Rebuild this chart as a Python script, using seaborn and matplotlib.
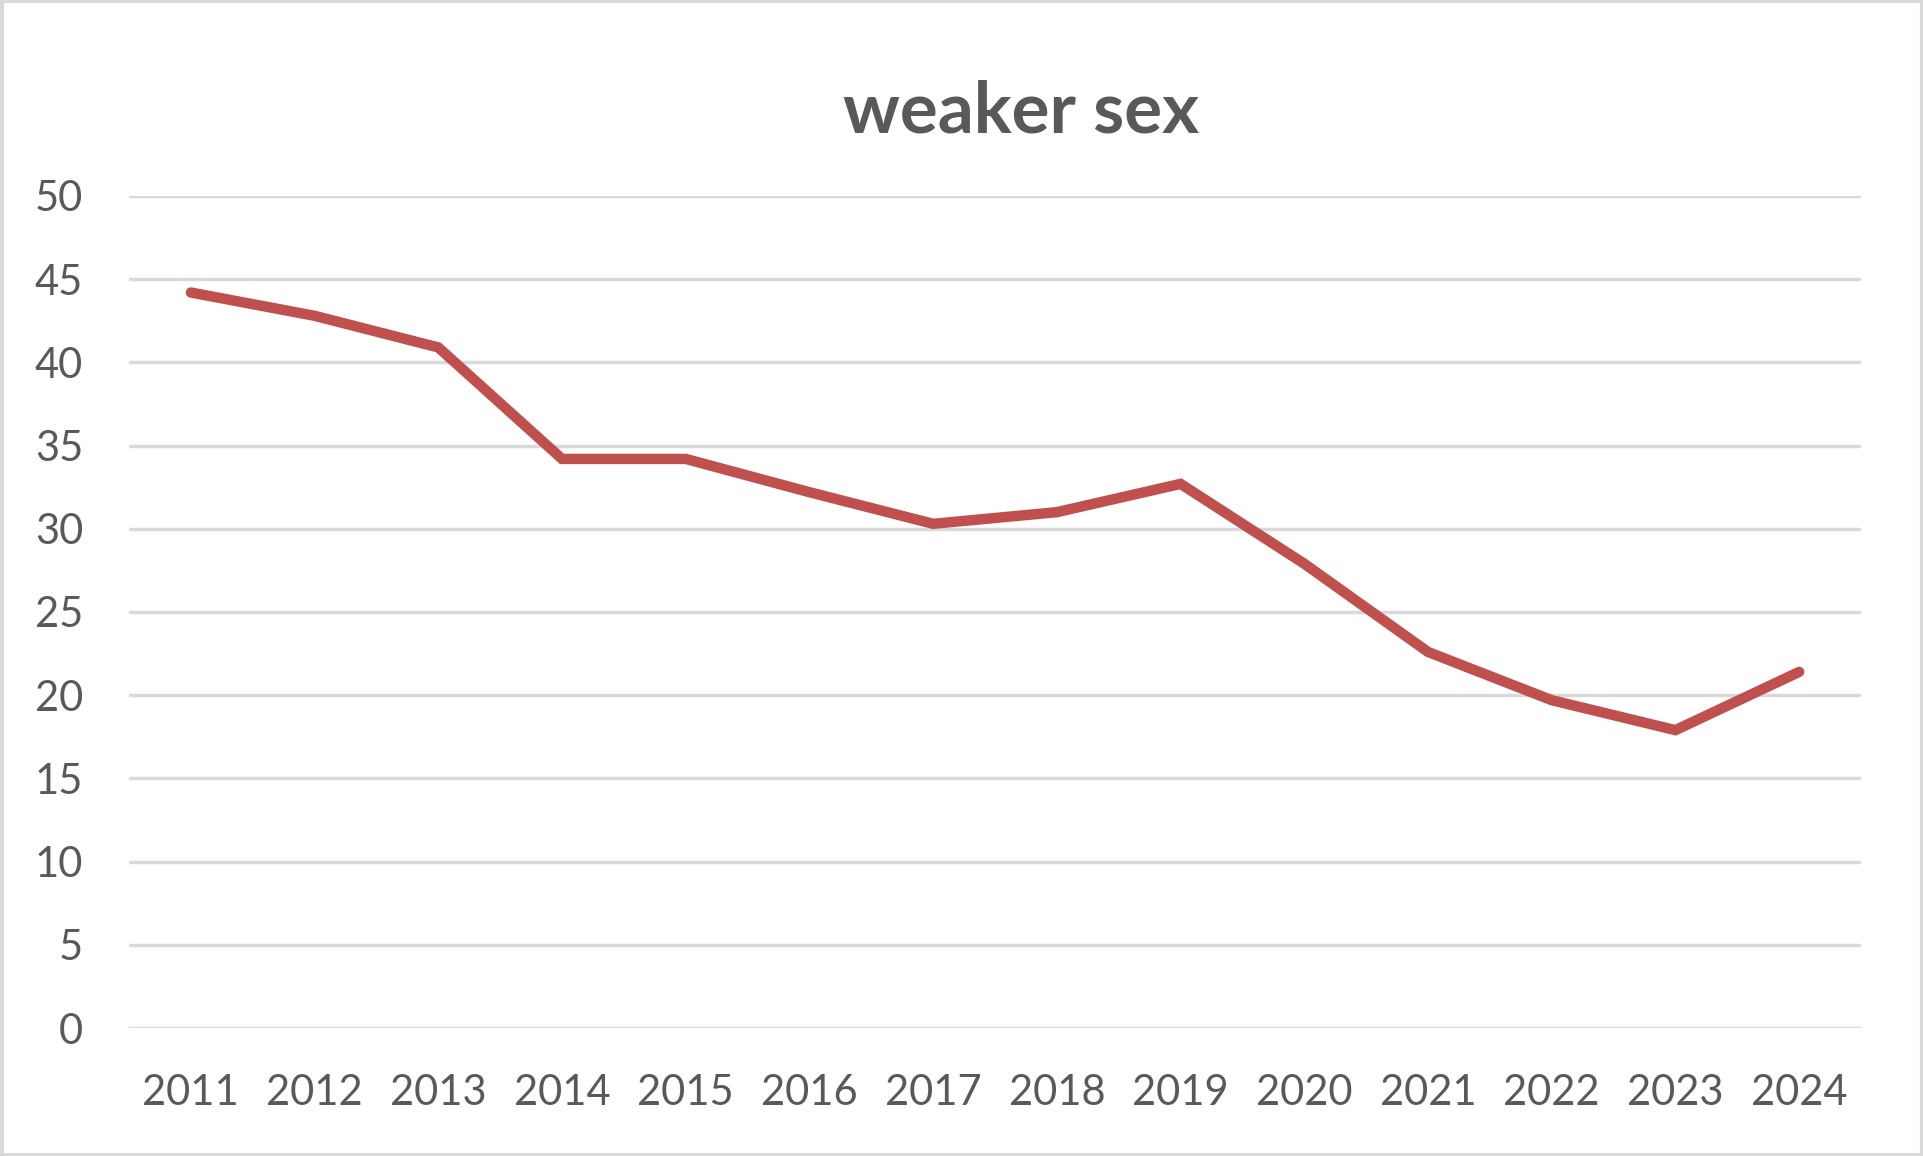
import matplotlib
matplotlib.use("Agg")
import matplotlib.pyplot as plt
import seaborn as sns
import pandas as pd
from matplotlib.patches import Rectangle

years = ["2011", "2012", "2013", "2014", "2015", "2016", "2017",
         "2018", "2019", "2020", "2021", "2022", "2023", "2024"]
values = [44.2, 42.8, 40.9, 34.2, 34.2, 32.2, 30.3,
          31.0, 32.7, 27.9, 22.6, 19.7, 17.9, 21.4]
y_ticks = [0, 5, 10, 15, 20, 25, 30, 35, 40, 45, 50]
title_text = "weaker sex"

df = pd.DataFrame({"year": years, "value": values})

sns.set_theme(style="white")
plt.rcParams["font.family"] = ["Lato", "DejaVu Sans"]

W, H = 1924, 1156
fig = plt.figure(figsize=(W / 100, H / 100), dpi=100)
ax = fig.add_axes([129 / W, 1 - 1028 / H, (1861 - 129) / W, (1028 - 196) / H])

sns.lineplot(data=df, x="year", y="value", ax=ax, color="#C0504D",
             linewidth=7.5, solid_capstyle="round", solid_joinstyle="miter",
             sort=False, zorder=3)

ax.set_xlim(-0.5, len(years) - 0.5)
ax.set_ylim(0, 50)
ax.set_yticks(y_ticks)
ax.set_yticklabels([str(t) for t in y_ticks])
ax.yaxis.grid(True, color="#D9D9D9", linewidth=2.5)
ax.xaxis.grid(False)
ax.set_axisbelow(True)
for s in ax.spines.values():
    s.set_visible(False)
ax.set_xlabel("")
ax.set_ylabel("")
ax.tick_params(axis="both", length=0, labelsize=30, colors="#595959")
ax.tick_params(axis="y", pad=33)
ax.tick_params(axis="x", pad=33)

fig.text(1021 / W, 1 - 112 / H, title_text, ha="center", va="center",
         fontsize=51, fontweight="bold", color="#595959")

fig.patches.append(Rectangle((0.001, 0.001), 0.998, 0.998, transform=fig.transFigure,
                             fill=False, edgecolor="#D9D9D9", linewidth=3))

fig.savefig("out.png", dpi=100, facecolor="white")
